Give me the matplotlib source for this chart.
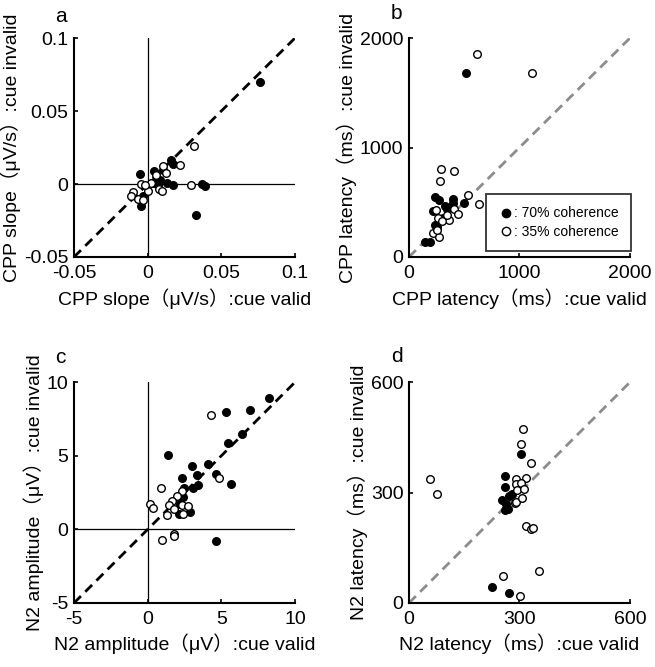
import matplotlib
matplotlib.use("Agg")
import matplotlib.pyplot as plt
from matplotlib.lines import Line2D

plt.rcParams['font.family'] = ['Liberation Sans', 'Noto Sans CJK JP', 'DejaVu Sans']
plt.rcParams['axes.unicode_minus'] = False

# panel a: CPP slope (uV/s)
a_fill_x = [0.076, 0.0156, 0.0172, -0.005, 0.0041, 0.0104, 0.0133, 0.0172, 0.0036, 0.0081,
            0.0371, 0.0391, 0.033, -0.0043, -0.003, 0.007]
a_fill_y = [0.070, 0.0162, 0.0139, 0.0066, 0.0089, 0.0098, 0.0007, -0.0005, 0.0007, 0.003,
            0.0, -0.0014, -0.0212, -0.0148, -0.0084, -0.0005]
a_open_x = [0.0314, 0.0104, 0.0217, 0.0059, 0.0127, -0.0043, -0.010, -0.011, -0.0066, -0.0032,
            0.0002, 0.0077, 0.010, 0.0296, 0.0025, -0.002]
a_open_y = [0.0257, 0.0125, 0.0132, 0.0064, 0.0075, 0.0002, -0.0057, -0.008, -0.0103, -0.0107,
            -0.0046, -0.0034, -0.005, -0.0005, 0.001, -0.0005]

# panel b: CPP latency (ms)
b_fill_x = [512, 235, 268, 395, 395, 328, 494, 214, 307, 232, 142, 193, 250, 340]
b_fill_y = [1676, 550, 520, 532, 489, 465, 489, 419, 358, 294, 141, 141, 270, 440]
b_open_x = [620, 1114, 286, 410, 283, 533, 630, 241, 404, 440, 364, 262, 298, 214, 268, 253, 343]
b_open_y = [1856, 1676, 807, 786, 694, 563, 486, 425, 434, 394, 342, 352, 327, 220, 183, 251, 388]

# panel c: N2 amplitude (uV)
c_fill_x = [8.23, 6.97, 5.32, 6.40, 5.43, 1.36, 4.09, 3.03, 3.35, 4.61, 2.33, 5.66, 3.39, 3.05,
            2.49, 2.38, 2.90, 2.15, 4.64, 2.2]
c_fill_y = [8.91, 8.10, 7.96, 6.45, 5.84, 5.04, 4.46, 4.30, 3.69, 3.78, 3.48, 3.05, 2.99, 2.83,
            2.83, 2.19, 1.18, 1.02, -0.81, 1.7]
c_open_x = [4.30, 4.86, 0.90, 2.31, 1.99, 1.65, 1.47, 1.81, 2.31, 2.71, 2.38, 0.18, 0.34, 1.29,
            0.97, 1.76, 1.81]
c_open_y = [7.78, 3.46, 2.83, 2.58, 2.24, 1.92, 1.63, 1.40, 1.63, 1.56, 1.02, 1.70, 1.45, 0.95,
            -0.70, -0.29, -0.45]

# panel d: N2 latency (ms)
d_fill_x = [303, 261, 261, 279, 271, 253, 264, 261, 268, 226, 272]
d_fill_y = [404, 345, 316, 296, 291, 280, 268, 252, 255, 43, 26]
d_open_x = [58, 77, 310, 305, 332, 291, 319, 291, 305, 294, 311, 288, 290, 308, 318, 332, 336,
            353, 256, 302]
d_open_y = [338, 295, 474, 431, 381, 336, 339, 322, 325, 308, 310, 271, 275, 284, 209, 202, 204,
            88, 72, 18]

panels = [
    ("a", a_fill_x, a_fill_y, a_open_x, a_open_y, (-0.05, 0.1), [-0.05, 0, 0.05, 0.1],
     ["-0.05", "0", "0.05", "0.1"], "CPP slope（μV/s）:cue valid", "CPP slope（μV/s）:cue invalid",
     "black", True),
    ("b", b_fill_x, b_fill_y, b_open_x, b_open_y, (0, 2000), [0, 1000, 2000],
     ["0", "1000", "2000"], "CPP latency（ms）:cue valid", "CPP latency（ms）:cue invalid",
     "#8c8c8c", False),
    ("c", c_fill_x, c_fill_y, c_open_x, c_open_y, (-5, 10), [-5, 0, 5, 10],
     ["-5", "0", "5", "10"], "N2 amplitude（μV）:cue valid", "N2 amplitude（μV）:cue invalid",
     "black", True),
    ("d", d_fill_x, d_fill_y, d_open_x, d_open_y, (0, 600), [0, 300, 600],
     ["0", "300", "600"], "N2 latency（ms）:cue valid", "N2 latency（ms）:cue invalid",
     "#8c8c8c", False),
]

positions = [
    [0.113, 0.6147, 0.3374, 0.3283],
    [0.6244, 0.6147, 0.3374, 0.3283],
    [0.113, 0.0960, 0.3374, 0.331],
    [0.6244, 0.0960, 0.3374, 0.331],
]
letter_xy = [(-0.06, 1.1), (-0.055, 1.11), (-0.06, 1.11), (-0.055, 1.115)]

fig = plt.figure(figsize=(6.55, 6.67), dpi=100)

for pos, lxy, (letter, fx, fy, ox, oy, lim, ticks, ticklabels, xl, yl, dcol, zero) in zip(positions, letter_xy, panels):
    ax = fig.add_axes(pos)
    ax.plot(lim, lim, linestyle=(0, (3.5, 2.2)), color=dcol, lw=2, zorder=1)
    if zero:
        ax.axhline(0, color="black", lw=0.9, zorder=1)
        ax.axvline(0, color="black", lw=0.9, zorder=1)
    ax.scatter(fx, fy, s=30, facecolor="black", edgecolor="black", linewidths=1, zorder=3,
               clip_on=False)
    ax.scatter(ox, oy, s=30, facecolor="white", edgecolor="black", linewidths=1, zorder=3,
               clip_on=False)
    ax.set_xlim(lim)
    ax.set_ylim(lim)
    ax.set_xticks(ticks)
    ax.set_xticklabels(ticklabels)
    ax.set_yticks(ticks)
    ax.set_yticklabels(ticklabels)
    for s in ["top", "right"]:
        ax.spines[s].set_visible(False)
    for s in ["left", "bottom"]:
        ax.spines[s].set_linewidth(1.5)
    ax.tick_params(direction="in", length=3, width=1.2, labelsize=14)
    ax.tick_params(axis="x", pad=6)
    ax.tick_params(axis="y", pad=4)
    ax.set_xlabel(xl, fontsize=14, labelpad=4)
    ax.set_ylabel(yl, fontsize=14, labelpad=2)
    ax.text(lxy[0], lxy[1], letter, transform=ax.transAxes, fontsize=15, ha="center", va="center")

    if letter == "b":
        handles = [
            Line2D([], [], marker="o", linestyle="none", markerfacecolor="black",
                   markeredgecolor="black", markersize=6),
            Line2D([], [], marker="o", linestyle="none", markerfacecolor="white",
                   markeredgecolor="black", markersize=6),
        ]
        leg = ax.legend(handles, [": 70% coherence", ": 35% coherence"], loc="lower right",
                        bbox_to_anchor=(1.005, 0.027), borderaxespad=0, fontsize=10,
                        frameon=True, fancybox=False, handletextpad=0.1, handlelength=1,
                        borderpad=0.9, labelspacing=0.3)
        leg.get_frame().set_edgecolor("black")
        leg.get_frame().set_linewidth(1.3)

fig.savefig("out.png", dpi=100)
